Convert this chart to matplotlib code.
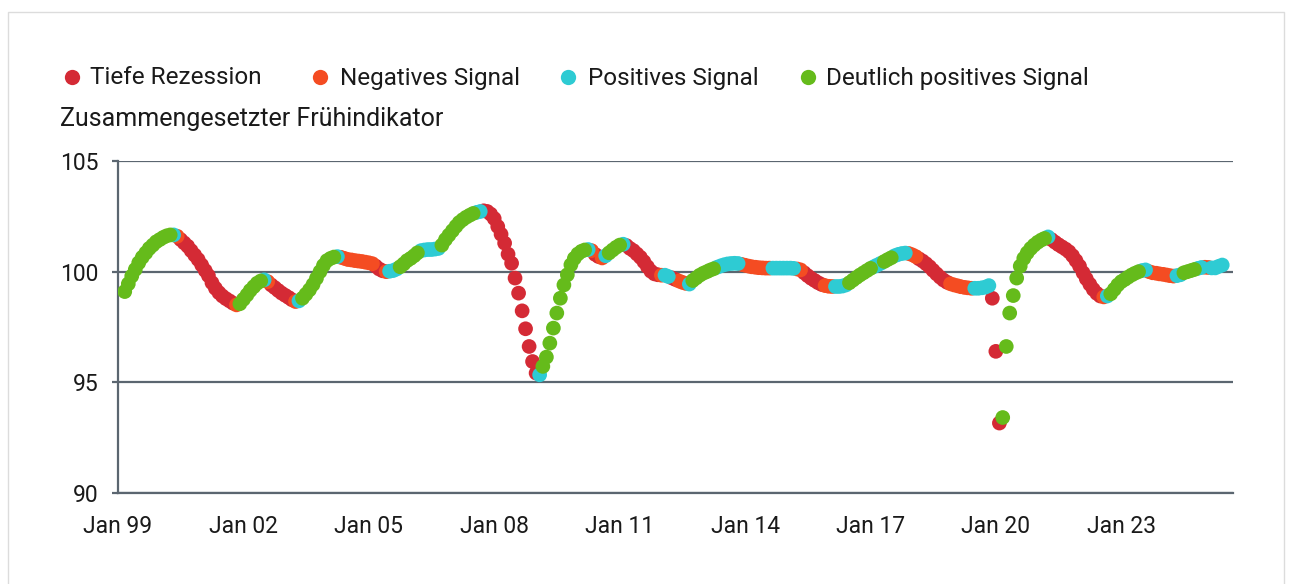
import matplotlib
matplotlib.use("Agg")
import matplotlib.pyplot as plt
from matplotlib.lines import Line2D
from matplotlib.patches import Rectangle
import numpy as np
import pandas as pd

plt.rcParams['font.family'] = ['Roboto', 'DejaVu Sans']

# monthly composite leading indicator, first value = March 1999
first_month = "1999-03-01"
cli_values = [
    # 1999 (Mar-Dec)
    99.1, 99.45, 99.8, 100.1, 100.4, 100.65, 100.85, 101.05, 101.2, 101.35,
    # 2000
    101.45, 101.55, 101.62, 101.66, 101.66, 101.6, 101.45, 101.3, 101.15, 100.95, 100.75, 100.55,
    # 2001
    100.3, 100.05, 99.82, 99.5, 99.25, 99.05, 98.9, 98.78, 98.68, 98.58, 98.5, 98.55,
    # 2002
    98.75, 98.95, 99.15, 99.32, 99.48, 99.58, 99.63, 99.55, 99.4, 99.28, 99.15, 99.03,
    # 2003
    98.93, 98.83, 98.73, 98.65, 98.68, 98.8, 98.98, 99.18, 99.42, 99.7, 100.0, 100.28,
    # 2004
    100.5, 100.6, 100.66, 100.68, 100.65, 100.6, 100.55, 100.53, 100.5, 100.48, 100.46, 100.43,
    # 2005
    100.4, 100.36, 100.25, 100.12, 100.04, 100.0, 100.02, 100.05, 100.12, 100.22, 100.35, 100.5,
    # 2006
    100.6, 100.72, 100.85, 100.95, 100.98, 101.0, 101.0, 101.02, 101.05, 101.2, 101.45, 101.65,
    # 2007
    101.85, 102.05, 102.22, 102.35, 102.46, 102.55, 102.63, 102.68, 102.72, 102.75, 102.72, 102.6,
    # 2008
    102.4, 102.04, 101.69, 101.29, 100.79, 100.38, 99.71, 99.03, 98.23, 97.42, 96.62, 95.94,
    # 2009
    95.42, 95.34, 95.72, 96.14, 96.77, 97.45, 98.13, 98.8, 99.4, 99.86, 100.31, 100.6,
    # 2010
    100.8, 100.92, 100.98, 101.0, 100.95, 100.78, 100.68, 100.62, 100.72, 100.85, 100.98, 101.1,
    # 2011
    101.2, 101.24, 101.18, 101.05, 100.95, 100.8, 100.65, 100.45, 100.22, 100.02, 99.9, 99.86,
    # 2012
    99.84, 99.84, 99.78, 99.72, 99.65, 99.58, 99.52, 99.47, 99.44, 99.6, 99.72, 99.84,
    # 2013
    99.93, 100.0, 100.07, 100.13, 100.2, 100.26, 100.31, 100.35, 100.37, 100.38, 100.37, 100.33,
    # 2014
    100.29, 100.25, 100.22, 100.2, 100.18, 100.17, 100.16, 100.16, 100.16, 100.16, 100.16, 100.16,
    # 2015
    100.16, 100.16, 100.15, 100.12, 100.08, 99.95, 99.82, 99.7, 99.6, 99.5, 99.42, 99.37,
    # 2016
    99.34, 99.33, 99.33, 99.33, 99.35, 99.4, 99.5, 99.62, 99.74, 99.85, 99.95, 100.05,
    # 2017
    100.15, 100.23, 100.3, 100.38, 100.46, 100.55, 100.63, 100.72, 100.78, 100.82, 100.84, 100.82,
    # 2018
    100.76, 100.68, 100.58, 100.48, 100.36, 100.22, 100.06, 99.9, 99.75, 99.62, 99.52, 99.45,
    # 2019
    99.4, 99.36, 99.32, 99.29, 99.27, 99.25, 99.25, 99.25, 99.27, 99.3, 99.37, 98.8,
    # 2020
    96.4, 93.16, 93.41, 96.62, 98.13, 98.92, 99.71, 100.25, 100.6, 100.85, 101.05, 101.2,
    # 2021
    101.33, 101.43, 101.5, 101.57, 101.45, 101.33, 101.22, 101.12, 101.02, 100.9, 100.72, 100.5,
    # 2022
    100.25, 99.95, 99.68, 99.43, 99.2, 99.02, 98.9, 98.86, 98.9, 99.0, 99.2, 99.4,
    # 2023
    99.55, 99.65, 99.75, 99.85, 99.93, 100.0, 100.05, 100.08, 100.0, 99.95, 99.93, 99.9,
    # 2024
    99.88, 99.85, 99.82, 99.8, 99.82, 99.86, 99.95, 100.0, 100.05, 100.1, 100.15, 100.19,
    # 2025 (Jan-Jun)
    100.2, 100.19, 100.17, 100.17, 100.24, 100.3,
]

# signal per month: R = tiefe Rezession, O = negativ, C = positiv, G = deutlich positiv
signal_codes_by_year = [
    "GGGGGGGGGG",    # 1999
    "GGGGCORRRRRR",  # 2000
    "RRRRRRRRRROG",  # 2001
    "GGGGGGCORRRR",  # 2002
    "RRROCGGGGGGG",  # 2003
    "GGGCOOOOOOOO",  # 2004
    "OORRROCCCGGG",  # 2005
    "GGGCCCCCCGGG",  # 2006
    "GGGGGGGCCRRR",  # 2007
    "RRRRRRRRRRRR",  # 2008
    "RCGGGGGGGGGG",  # 2009
    "GGGCORROCGGG",  # 2010
    "GCRRRRRRRRRR",  # 2011
    "OCCRROOOCGGG",  # 2012
    "GGGGCCCCCCCO",  # 2013
    "OOOOOOOOCCCC",  # 2014
    "CCCOORRRRRRO",  # 2015
    "OOCCCCGGGGGG",  # 2016
    "GCCCGGGCCCCO",  # 2017
    "OORRRRRRRRRO",  # 2018
    "OOOOOOCCCCCR",  # 2019
    "RRGGGGGGGGGG",  # 2020
    "GGGCRRRRRRRR",  # 2021
    "RRRRRRROCGGG",  # 2022
    "GGGGGGCCOOOO",  # 2023
    "OOOOCCGGGGCC",  # 2024
    "OOCCCC",        # 2025
]

signal_keys = ["R", "O", "C", "G"]
signal_names = ["Tiefe Rezession", "Negatives Signal", "Positives Signal", "Deutlich positives Signal"]
signal_colors = ["#d42a35", "#f44c22", "#2ecbd3", "#65bb1b"]

x_tick_years = [1999, 2002, 2005, 2008, 2011, 2014, 2017, 2020, 2023]
x_tick_labels = ["Jan 99", "Jan 02", "Jan 05", "Jan 08", "Jan 11", "Jan 14", "Jan 17", "Jan 20", "Jan 23"]
y_ticks = [90, 95, 100, 105]

W, H = 1293, 584
axis_color = "#5b6670"
text_color = "#1a1a1a"
fs_ticks = 16.5
fs_text = 17.5

dates = pd.date_range(first_month, periods=len(cli_values), freq="MS")
values = np.array(cli_values)
codes = np.array(list("".join(signal_codes_by_year)))

fig = plt.figure(figsize=(W / 100, H / 100), dpi=100)
fig.add_artist(Rectangle((8 / W, -0.1), (1284 - 8) / W, 1.1 - 12 / H, transform=fig.transFigure,
                         facecolor="none", edgecolor="#dcdcdc", lw=1))

ax = fig.add_axes([118 / W, 1 - 493 / H, (1233 - 118) / W, (493 - 161) / H])

for i, (key, color) in enumerate(zip(signal_keys, signal_colors)):
    sel = codes == key
    ax.scatter(dates[sel], values[sel], s=112, color=color, edgecolors="none", zorder=3 + i)

ax.set_ylim(90, 105)
ax.set_xlim(pd.Timestamp("1999-01-10"), pd.Timestamp("2025-09-03"))
ax.set_yticks(y_ticks)
ax.set_yticklabels([str(t) for t in y_ticks])
ax.set_xticks([pd.Timestamp(f"{y}-01-01") for y in x_tick_years])
ax.set_xticklabels(x_tick_labels)

ax.grid(axis="y", color=axis_color, lw=1.6, zorder=1)
ax.set_axisbelow(True)
for side in ["top", "right"]:
    ax.spines[side].set_visible(False)
for side in ["left", "bottom"]:
    ax.spines[side].set_color(axis_color)
    ax.spines[side].set_linewidth(1.6)
ax.tick_params(axis="y", length=4, width=1.6, color=axis_color, pad=10, labelsize=fs_ticks, labelcolor=text_color)
ax.tick_params(axis="x", length=0, pad=16, labelsize=fs_ticks, labelcolor=text_color)

# legend row
legend_marker_x = [72, 320, 568, 808]
legend_text_x = [90, 340, 588, 826]
for name, color, mx, tx in zip(signal_names, signal_colors, legend_marker_x, legend_text_x):
    fig.add_artist(Line2D([mx / W], [1 - 77 / H], marker="o", markersize=11, color=color,
                          markeredgewidth=0, transform=fig.transFigure))
    fig.text(tx / W, 1 - 78 / H, name, fontsize=fs_text, color=text_color, ha="left", va="center")

fig.text(60 / W, 1 - 119 / H, "Zusammengesetzter Frühindikator", fontsize=18, color=text_color,
         ha="left", va="center")

fig.savefig("out.png", dpi=100)
